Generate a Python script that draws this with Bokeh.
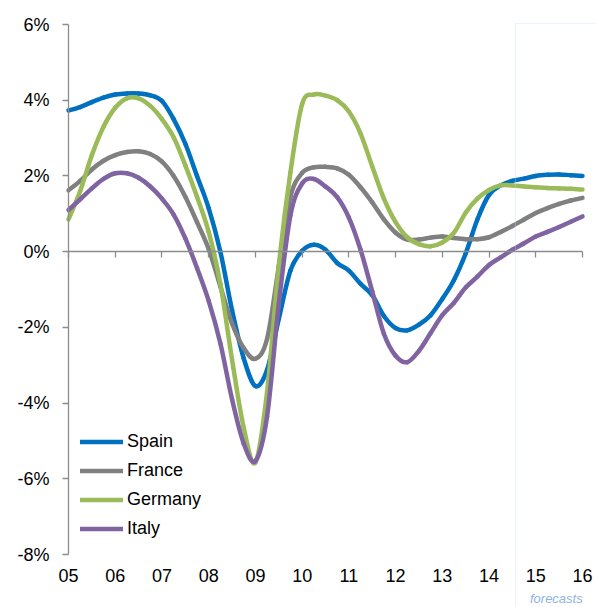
from bokeh.plotting import figure
from bokeh.models import (Range1d, LinearAxis, FixedTicker, BoxAnnotation, Label,
                          Legend, LegendItem, ColumnDataSource)
from bokeh.embed import file_html
from bokeh.resources import INLINE

# quarterly time axis (05 = 2005 ... 16 = 2016)
quarters = [5.0, 5.25, 5.5, 5.75, 6.0, 6.25, 6.5, 6.75, 7.0, 7.25, 7.5, 7.75,
            8.0, 8.25, 8.5, 8.75, 9.0, 9.25, 9.5, 9.75, 10.0, 10.25, 10.5, 10.75,
            11.0, 11.25, 11.5, 11.75, 12.0, 12.25, 12.5, 12.75, 13.0, 13.25, 13.5, 13.75,
            14.0, 14.25, 14.5, 14.75, 15.0, 15.25, 15.5, 15.75, 16.0]

spain = [3.73, 3.82, 3.95, 4.07, 4.15, 4.18, 4.18, 4.13, 3.98, 3.5, 2.85, 2.0,
         1.15, 0.0, -1.55, -2.82, -3.55, -3.12, -1.78, -0.5, 0.02, 0.18, 0.05, -0.3,
         -0.5, -0.85, -1.15, -1.7, -2.02, -2.08, -1.93, -1.68, -1.25, -0.75, -0.05, 0.85,
         1.5, 1.75, 1.87, 1.93, 2.0, 2.03, 2.04, 2.02, 2.0]

france = [1.62, 1.87, 2.17, 2.4, 2.55, 2.63, 2.65, 2.58, 2.38, 2.0, 1.45, 0.78,
          0.07, -0.92, -1.9, -2.55, -2.83, -2.3, -0.4, 1.45, 2.08, 2.23, 2.24, 2.2,
          2.03, 1.7, 1.3, 0.85, 0.5, 0.32, 0.32, 0.37, 0.4, 0.36, 0.33, 0.33,
          0.38, 0.52, 0.68, 0.85, 1.02, 1.15, 1.26, 1.35, 1.42]

germany = [0.85, 1.6, 2.55, 3.3, 3.8, 4.05, 4.05, 3.85, 3.5, 3.02, 2.28, 1.45,
           0.52, -0.85, -2.85, -4.65, -5.57, -3.7, -0.37, 2.1, 3.9, 4.15, 4.12, 4.0,
           3.7, 3.12, 2.25, 1.4, 0.78, 0.38, 0.2, 0.14, 0.24, 0.5, 1.03, 1.4,
           1.63, 1.75, 1.75, 1.72, 1.7, 1.68, 1.67, 1.66, 1.64]

italy = [1.1, 1.38, 1.67, 1.92, 2.07, 2.07, 1.95, 1.72, 1.4, 0.98, 0.35, -0.43,
         -1.3, -2.42, -3.9, -5.07, -5.53, -4.35, -1.38, 0.96, 1.8, 1.92, 1.72, 1.44,
         0.9, 0.05, -1.05, -2.17, -2.75, -2.92, -2.62, -2.15, -1.68, -1.35, -0.95, -0.66,
         -0.35, -0.15, 0.05, 0.22, 0.4, 0.52, 0.65, 0.79, 0.93]

series_names = ["Spain", "France", "Germany", "Italy"]
series_colors = ["#0070C0", "#808080", "#9BBB59", "#8064A2"]

x_ticks = [5, 6, 7, 8, 9, 10, 11, 12, 13, 14, 15, 16]
x_labels = ["05", "06", "07", "08", "09", "10", "11", "12", "13", "14", "15", "16"]
y_ticks = [-8, -6, -4, -2, 0, 2, 4, 6]
y_labels = ["-8%", "-6%", "-4%", "-2%", "0%", "2%", "4%", "6%"]

forecast_start = 14.566
forecast_text = "forecasts"

FONT = "Liberation Sans"
AXIS_COLOR = "#8C8C8C"


def smooth_segments(xs, ys):
    """Bezier segments through the points (like a 'smoothed line' chart)."""
    n = len(xs)
    d = dict(x0=[], y0=[], x1=[], y1=[], cx0=[], cy0=[], cx1=[], cy1=[])
    for i in range(n - 1):
        xp, yp = (xs[i - 1], ys[i - 1]) if i > 0 else (xs[i], ys[i])
        xn, yn = (xs[i + 2], ys[i + 2]) if i + 2 < n else (xs[i + 1], ys[i + 1])
        d["x0"].append(xs[i]); d["y0"].append(ys[i])
        d["x1"].append(xs[i + 1]); d["y1"].append(ys[i + 1])
        d["cx0"].append(xs[i] + (xs[i + 1] - xp) / 6.0)
        d["cy0"].append(ys[i] + (ys[i + 1] - yp) / 6.0)
        d["cx1"].append(xs[i + 1] - (xn - xs[i]) / 6.0)
        d["cy1"].append(ys[i + 1] - (yn - ys[i]) / 6.0)
    return ColumnDataSource(d)


p = figure(width=596, height=607, output_backend="svg", toolbar_location=None,
           x_axis_location=None, y_axis_location=None,
           x_range=Range1d(3.5447, 16.2996), y_range=Range1d(-9.40, 6.634),
           min_border_left=0, min_border_right=0, min_border_top=0, min_border_bottom=0)
p.outline_line_color = None
p.xgrid.visible = False
p.ygrid.visible = False
p.background_fill_color = "white"

# y axis (at the first year)
ya = LinearAxis(fixed_location=5, ticker=FixedTicker(ticks=y_ticks),
                major_label_overrides={t: l for t, l in zip(y_ticks, y_labels)},
                bounds=(-8, 6),
                axis_line_color=AXIS_COLOR, axis_line_width=1.3,
                major_tick_line_color=AXIS_COLOR, major_tick_line_width=1.3,
                major_tick_out=6, major_tick_in=0, minor_tick_line_color=None,
                major_label_standoff=13, major_label_text_font=FONT,
                major_label_text_font_size="18px", major_label_text_color="#000000")
p.add_layout(ya, "left")

# x axis on the zero line (ticks only)
zero_axis = LinearAxis(fixed_location=0, ticker=FixedTicker(ticks=x_ticks),
                       bounds=(5, 16),
                       axis_line_color=AXIS_COLOR, axis_line_width=1.3,
                       major_tick_line_color=AXIS_COLOR, major_tick_line_width=1.3,
                       major_tick_out=6, major_tick_in=0,
                       minor_tick_line_color=None,
                       major_label_text_alpha=0, major_label_text_font_size="1px")
p.add_layout(zero_axis, "below")

# x labels at the bottom
label_axis = LinearAxis(fixed_location=-8, ticker=FixedTicker(ticks=x_ticks),
                        major_label_overrides={t: l for t, l in zip(x_ticks, x_labels)},
                        axis_line_color=None, major_tick_line_color=None,
                        minor_tick_line_color=None, major_tick_out=0,
                        major_label_standoff=14,
                        major_label_text_font=FONT, major_label_text_font_size="18px",
                        major_label_text_color="#000000")
p.add_layout(label_axis, "below")

# forecast box
box = BoxAnnotation(left=forecast_start, right=17.5, top=6.03, bottom=-10.5,
                    fill_alpha=0, line_color="#C6D9F1", line_width=1.3)
p.add_layout(box)
p.add_layout(Label(x=15.44, y=-9.17, text=forecast_text, text_align="center",
                   text_baseline="middle", text_font=FONT, text_font_size="13px",
                   text_font_style="italic", text_color="#8EB4E3"))

items = []
for name, col, vals in zip(series_names, series_colors, [spain, france, germany, italy]):
    src = smooth_segments(quarters, vals)
    r = p.bezier(x0="x0", y0="y0", x1="x1", y1="y1", cx0="cx0", cy0="cy0",
                 cx1="cx1", cy1="cy1", source=src, line_width=4.5, line_color=col,
                 line_cap="round")
    items.append(LegendItem(label=name, renderers=[r]))

legend = Legend(items=items, location=(80, 66), border_line_color=None,
                background_fill_alpha=0, padding=0, margin=0, spacing=4,
                glyph_width=43, glyph_height=25, label_height=25, label_standoff=4,
                label_text_font=FONT, label_text_font_size="18px",
                label_text_color="#000000")
p.add_layout(legend)

open("out.html", "w").write(file_html(p, INLINE))
